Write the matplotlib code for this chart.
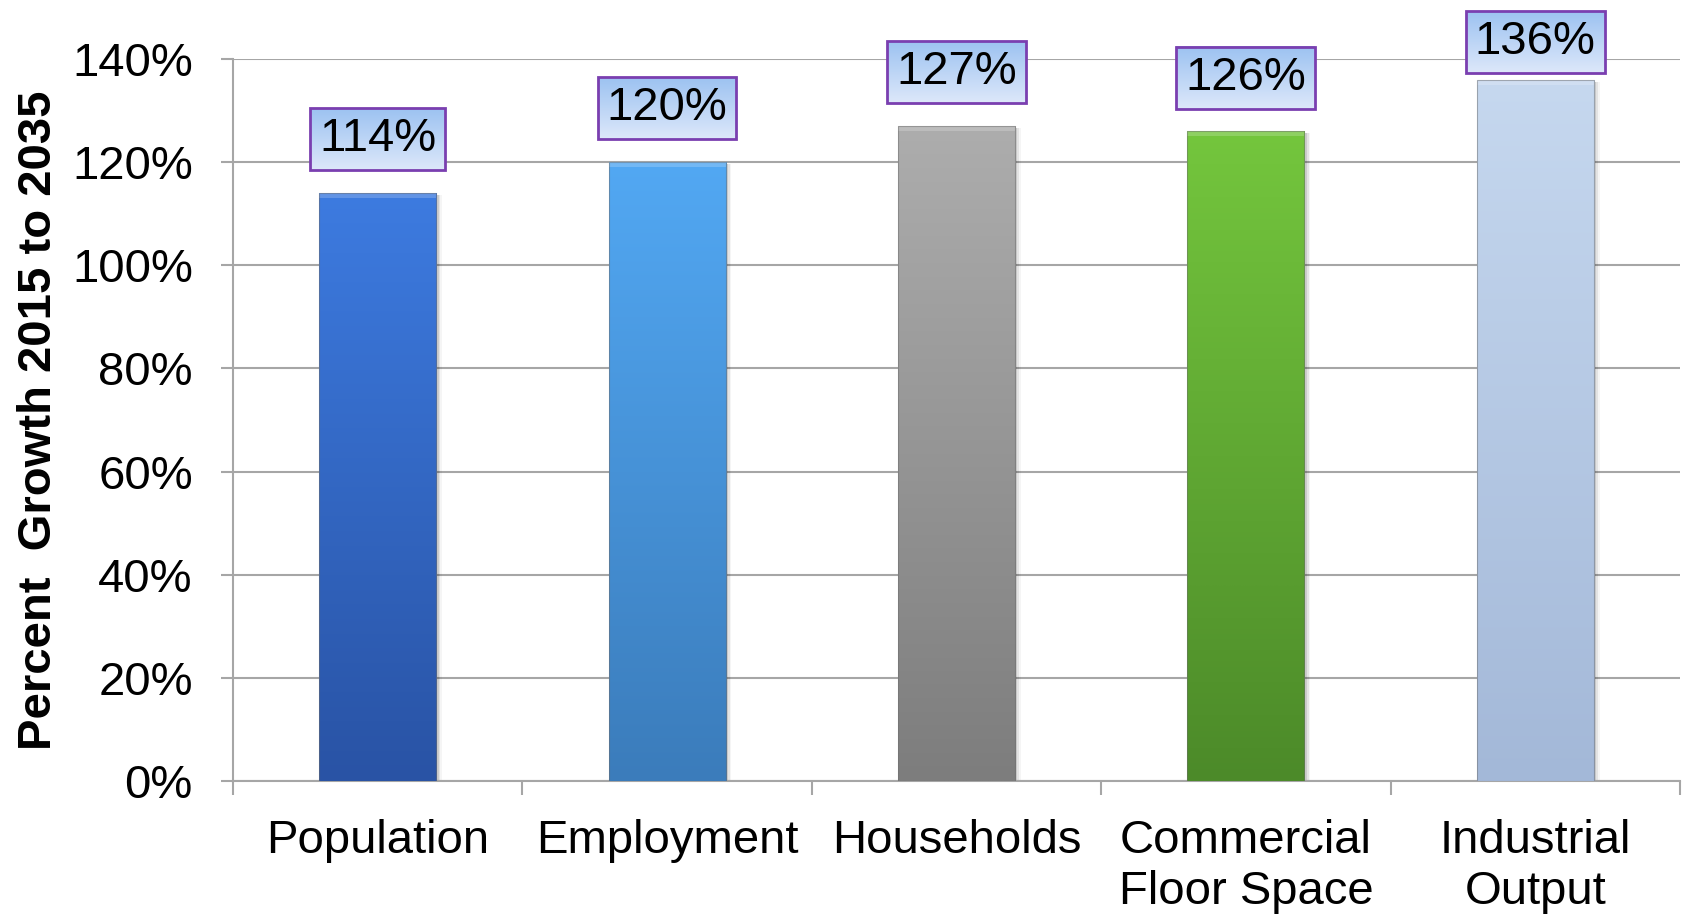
import numpy as np
import matplotlib
matplotlib.use("Agg")
import matplotlib.pyplot as plt
from matplotlib.patches import Rectangle
from matplotlib.colors import LinearSegmentedColormap

plt.rcParams['font.family'] = ['Liberation Sans', 'DejaVu Sans']

# growth values 2015 -> 2035 (percent)
categories = ['Population', 'Employment', 'Households', 'Commercial\nFloor Space', 'Industrial\nOutput']
growth = [114, 120, 127, 126, 136]
value_labels = ['114%', '120%', '127%', '126%', '136%']
yticks = [0, 20, 40, 60, 80, 100, 120, 140]

# top / bottom colours of each bar gradient
bar_top = ['#3D7BE0', '#52A8F3', '#ADADAD', '#74C63D', '#C6D8EF']
bar_bot = ['#2953A5', '#3B7CBB', '#7D7D7D', '#4C8A29', '#A3B8D8']

fig = plt.figure(figsize=(16.85, 9.17), dpi=100)
ax = fig.add_axes([0.1383, 0.1483, 0.8587, 0.7874])

x = np.arange(len(categories))
width = 0.405
grid_col = '#A6A6A6'

ax.set_xlim(-0.5, len(categories) - 0.5)
ax.set_ylim(0, 140)
ax.set_yticks(yticks)
ax.set_yticklabels(['%d%%' % v for v in yticks])
ax.yaxis.grid(True, color=grid_col, linewidth=1.5)
ax.set_axisbelow(True)

for s in ['top', 'right']:
    ax.spines[s].set_visible(False)
for s in ['left', 'bottom']:
    ax.spines[s].set_color(grid_col)
    ax.spines[s].set_linewidth(1.5)

ax.tick_params(axis='y', labelsize=34, length=9, width=1.5, color=grid_col, pad=20)
ax.set_xticks(x)
ax.set_xticklabels(categories, fontsize=34, linespacing=1.22)
ax.tick_params(axis='x', which='major', length=0, pad=27)
ax.set_xticks(np.arange(-0.5, len(categories)), minor=True)
ax.tick_params(axis='x', which='minor', length=10, width=1.5, color=grid_col)

ax.set_ylabel('Percent  Growth 2015 to 2035', fontsize=34, fontweight='bold')
ax.yaxis.set_label_coords(-0.119, 0.5)

# bars with vertical gradient, soft shadow and a light top edge
bars = ax.bar(x, growth, width=width, color='none', edgecolor='none', zorder=3)
grad = np.linspace(0, 1, 256).reshape(-1, 1)
for i, b in enumerate(bars):
    x0 = b.get_x()
    h = b.get_height()
    for k, a in enumerate([0.10, 0.07, 0.04]):
        ax.add_patch(Rectangle((x0 + 0.008 + k * 0.006, 0), width, h - 0.4,
                               facecolor='black', alpha=a, edgecolor='none', zorder=2))
    cmap = LinearSegmentedColormap.from_list('g%d' % i, [bar_bot[i], bar_top[i]])
    im = ax.imshow(grad, cmap=cmap, origin='lower', aspect='auto',
                   extent=[x0, x0 + width, 0, h], zorder=3)
    im.set_clip_path(b)
    ax.add_patch(Rectangle((x0, h - 1.0), width, 1.0, facecolor='white',
                           alpha=0.2, edgecolor='none', zorder=4))
    ax.add_patch(Rectangle((x0, 0), width, h, facecolor='none',
                           edgecolor='#6E6E6E', linewidth=0.8, alpha=0.5, zorder=4))

# value labels in gradient boxes above the bars
box_cmap = LinearSegmentedColormap.from_list('box', ['#DDE8FA', '#9CC2F1'])
fig.canvas.draw()
inv = ax.transData.inverted()
for i, v in enumerate(growth):
    yc = min(v + 10.4, 143.2)
    t = ax.text(x[i], yc, value_labels[i], ha='center', va='center',
                fontsize=34, zorder=7, clip_on=False)
    bb = t.get_window_extent(renderer=fig.canvas.get_renderer())
    (bx0, _), (bx1, _) = inv.transform([[bb.x0 - 9, 0], [bb.x1 + 9, 0]])
    by_c = ax.transData.transform((0, yc))[1]
    (_, by0), (_, by1) = inv.transform([[0, by_c - 31], [0, by_c + 31]])
    ax.imshow(grad, cmap=box_cmap, origin='lower', aspect='auto',
              extent=[bx0, bx1, by0, by1], zorder=5, clip_on=False)
    ax.add_patch(Rectangle((bx0, by0), bx1 - bx0, by1 - by0, facecolor='none',
                           edgecolor='#7A3FB0', linewidth=2, zorder=6, clip_on=False))

ax.set_xlim(-0.5, len(categories) - 0.5)
ax.set_ylim(0, 140)

plt.savefig('out.png', dpi=100)
